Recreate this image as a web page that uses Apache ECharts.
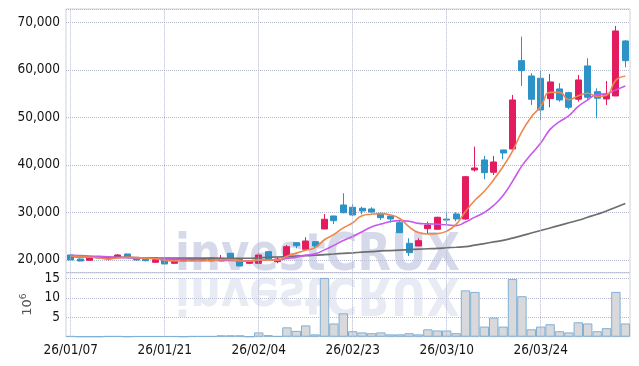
<!DOCTYPE html>
<html>
<head>
<meta charset="utf-8">
<script src="https://cdn.jsdelivr.net/npm/echarts@6/dist/echarts.min.js"></script>
<style>html,body{margin:0;padding:0;background:#fff}#c{width:639px;height:366px}</style>
</head>
<body>
<div id="c"></div>
<script>
const dates = ['26/01/07','26/01/08','26/01/09','26/01/12','26/01/13','26/01/14','26/01/15','26/01/16','26/01/19','26/01/20',
'26/01/21','26/01/22','26/01/23','26/01/26','26/01/27','26/01/28','26/01/29','26/01/30','26/02/02','26/02/03',
'26/02/04','26/02/05','26/02/06','26/02/09','26/02/10','26/02/11','26/02/12','26/02/13','26/02/19','26/02/20',
'26/02/23','26/02/24','26/02/25','26/02/26','26/02/27','26/03/03','26/03/04','26/03/05','26/03/06','26/03/09',
'26/03/10','26/03/11','26/03/12','26/03/13','26/03/16','26/03/17','26/03/18','26/03/19','26/03/20','26/03/23',
'26/03/24','26/03/25','26/03/26','26/03/27','26/03/30','26/03/31','26/04/01','26/04/02','26/04/03','26/04/06'];

const opens = [21050,20210,19937,20500,20200,20560,21260,20480,20150,19515,
20000,19305,19800,20100,19900,20400,19790,21410,20147,19305,
19305,21747,19642,20695,23640,22252,23850,26525,29262,31578,
31093,30880,30735,29830,29262,27850,23515,22947,26590,26462,
28600,29683,28630,38945,41050,38460,43155,43365,61953,58730,
58250,53955,56000,55217,53830,60840,55430,53890,54520,66100];
const closes = [20000,19790,20484,20420,20400,21050,20630,20000,19850,20060,
19160,19790,20000,19900,20150,19800,20358,20147,18737,19790,
21050,20147,20210,22800,23010,24000,22947,28570,28270,29957,
29473,30315,30100,28904,28630,25747,21537,24063,27370,28989,
28400,28630,37535,39366,38377,40629,42524,53680,59848,53827,
51575,57470,53680,52140,57890,54250,54040,54940,68200,61950];
const lows = [19900,19700,19900,20200,19900,20500,20500,19900,19700,19400,
19100,19200,19700,19800,19850,19700,19790,20100,18737,19095,
19305,20147,19305,20570,22463,22105,22463,26525,27580,29830,
29260,29620,29960,28420,27850,25747,20840,22947,25470,26462,
27580,28146,28420,38590,36987,37890,41200,43365,56630,52630,
49470,52140,53320,51720,53320,53680,49830,52630,54520,60560];
const highs = [21300,20300,20600,20700,20500,21250,21350,20550,20200,20150,
20100,19900,20100,20200,20250,20500,21050,21500,20200,19900,
21410,21800,20695,23157,23700,24780,23900,29680,29300,34040,
31790,31220,31090,29900,29300,28420,24570,24570,28060,29100,
30170,30040,37680,43850,41892,41890,43155,54730,67000,59300,
59850,59150,57200,55400,58940,62460,56140,57680,69260,66300];
const volumes = [0.15,0.02,0.02,0.02,0.15,0.15,0.03,0.12,0.12,0.12,
0.12,0.12,0.03,0.15,0.15,0.15,0.35,0.35,0.35,0.02,
1.1,0.4,0.15,2.4,1.5,2.9,0.6,15.1,3.4,6.0,
1.4,1.1,0.9,1.1,0.6,0.6,0.9,0.6,1.9,1.6,
1.6,0.9,11.9,11.5,2.6,4.9,2.6,14.8,10.4,1.9,
2.6,3.2,1.4,1.1,3.7,3.4,1.4,2.2,11.5,3.4];
const ma5 = [20800,20700,20600,20450,20219,20429,20597,20500,20386,20318,
19940,19772,19772,19782,19800,19928,20042,20071,19838,19766,
20016,19974,19987,20799,21443,22033,22593,24265,25359,26749,
27843,29317,29623,29750,29484,28739,26984,25776,25469,25541,
26072,27490,30185,32584,34462,36907,39686,42915,47012,50102,
52291,55280,55280,53738,54551,55086,54400,54652,57864,58676];
const ma10 = [21000,20950,20850,20750,20650,20550,20480,20400,20330,20268,
20184,20184,20136,20084,20059,19934,19907,19922,19810,19783,
19972,20008,20029,20319,20605,21025,21284,22126,23079,24096,
24938,25955,26944,27555,28117,28291,28150,27700,27610,27513,
27406,27237,27981,29027,30001,31490,33588,36550,39798,42282,
44599,47483,49098,50375,52326,53688,54840,54966,55801,56614];
const ma60 = [20700,20670,20640,20610,20580,20550,20520,20490,20460,20430,
20400,20395,20390,20385,20380,20375,20370,20365,20360,20360,
20450,20540,20630,20720,20810,20900,21000,21130,21260,21390,
21510,21640,21770,21900,21990,22080,22170,22270,22360,22450,
22570,22680,22800,23130,23460,23800,24130,24600,25130,25670,
26200,26740,27280,27830,28370,28990,29620,30300,31100,31900];
const labelIdx = [0,10,20,30,40,50];

const UP = '#e31c5f', DOWN = '#2b93c7';
const FONT = '"DejaVu Sans Condensed",sans-serif';
const candles = dates.map((d,i)=>[opens[i],closes[i],lows[i],highs[i]]);
const vLines = labelIdx.map(i=>({xAxis: dates[i]}));
const gridLine = {type:'dotted', color:'#b4b8cc', width:1};

const chart = echarts.init(document.getElementById('c'), null, {renderer:'canvas'});
chart.setOption({
  animation:false,
  backgroundColor:'#fff',
  graphic:[
    {type:'text', x:175, y:266, scaleX:0.93, scaleY:-1, z:1, silent:true,
     style:{text:'investCRUX', font:'bold 52px "DejaVu Sans Condensed"', fill:'rgba(205,210,228,0.45)', verticalAlign:'bottom'}},
    {type:'text', x:175, y:282, scaleX:0.93, z:1, silent:true,
     style:{text:'investCRUX', font:'bold 52px "DejaVu Sans Condensed"', fill:'rgba(185,192,218,0.6)', verticalAlign:'bottom'}}
  ],
  grid:[
    {left:66, right:9, top:9, height:263.7, show:true, borderColor:'#cfd1d8', borderWidth:1, z:0},
    {left:66, right:9, top:272.7, height:64, show:true, borderColor:'#cfd1d8', borderWidth:1, z:0}
  ],
  xAxis:[
    {type:'category', gridIndex:0, data:dates, boundaryGap:true,
     axisLine:{show:false}, axisTick:{show:false}, axisLabel:{show:false}, splitLine:{show:false}},
    {type:'category', gridIndex:1, data:dates, boundaryGap:true,
     axisLine:{show:false}, axisTick:{show:false}, splitLine:{show:false},
     axisLabel:{interval:9, color:'#151515', fontSize:13.5, fontFamily:FONT, margin:7}}
  ],
  yAxis:[
    {type:'value', gridIndex:0, min:17324, max:72823, scale:true,
     axisLine:{show:false}, axisTick:{show:false},
     axisLabel:{showMinLabel:false, showMaxLabel:false, color:'#151515', fontSize:13.5, fontFamily:FONT, margin:6,
       formatter:v=>v.toLocaleString('en-US')},
     splitLine:{show:true, lineStyle:gridLine}},
    {type:'value', gridIndex:1, min:0, max:16.44, interval:5,
     axisLine:{show:false}, axisTick:{show:false},
     axisLabel:{showMinLabel:false, showMaxLabel:false, color:'#151515', fontSize:13.5, fontFamily:FONT, margin:6},
     splitLine:{show:true, lineStyle:gridLine},
     name:'{a|10}{b|6}', nameLocation:'middle', nameRotate:90, nameGap:16,
     nameTextStyle:{rich:{a:{fontSize:13, color:'#555', fontFamily:'DejaVu Sans'}, b:{fontSize:9, color:'#555', fontFamily:'DejaVu Sans', verticalAlign:'top', padding:[0,0,6,0]}}}}
  ],
  series:[
    {type:'line', xAxisIndex:0, yAxisIndex:0, data:closes, symbol:'none', lineStyle:{opacity:0}, z:1, silent:true,
     markLine:{silent:true, symbol:'none', label:{show:false}, lineStyle:gridLine, data:vLines, animation:false}},
    {type:'line', xAxisIndex:1, yAxisIndex:1, data:volumes, symbol:'none', lineStyle:{opacity:0}, z:1, silent:true,
     markLine:{silent:true, symbol:'none', label:{show:false}, lineStyle:gridLine, data:vLines, animation:false}},
    {type:'candlestick', xAxisIndex:0, yAxisIndex:0, data:candles, barWidth:'70%', z:3,
     itemStyle:{color:UP, color0:DOWN, borderColor:UP, borderColor0:DOWN, borderWidth:1}},
    {type:'line', xAxisIndex:0, yAxisIndex:0, data:ma60, symbol:'none', smooth:true, z:4,
     lineStyle:{color:'#6e6e6e', width:1.7}},
    {type:'line', xAxisIndex:0, yAxisIndex:0, data:ma10, symbol:'none', smooth:true, z:4,
     lineStyle:{color:'#c957ef', width:1.6}},
    {type:'line', xAxisIndex:0, yAxisIndex:0, data:ma5, symbol:'none', smooth:true, z:4,
     lineStyle:{color:'#ef874c', width:1.6}},
    {type:'bar', xAxisIndex:1, yAxisIndex:1, data:volumes, barCategoryGap:'0%', z:3,
     itemStyle:{color:'#d9d9db', borderColor:'#7fb0d6', borderWidth:1}}
  ]
});
</script>
</body>
</html>
